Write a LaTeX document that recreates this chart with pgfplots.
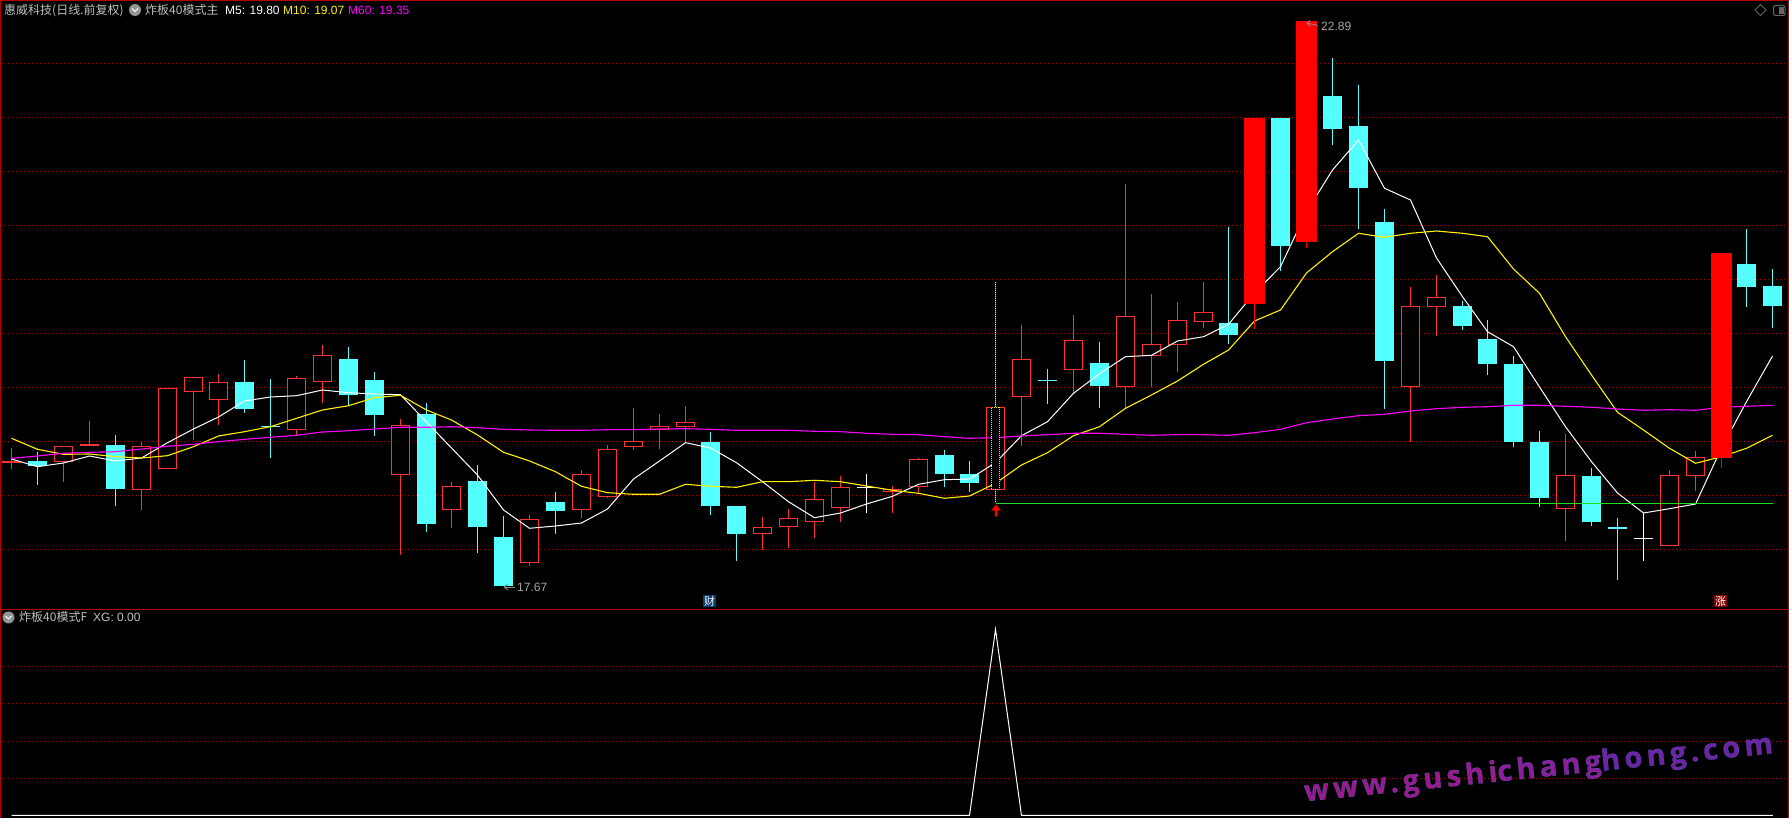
\documentclass[border=0pt]{standalone}
\usepackage{pgfplots}
\usepackage{pgfplotstable}
\usepackage{fontspec}
\pgfplotsset{compat=1.18}
\setmainfont{Liberation Sans}
\newfontfamily\cjk{Noto Sans CJK SC}
\newfontfamily\wmbold[LetterSpace=15,FakeBold=0.7]{Open Sans Bold}
\definecolor{cyanc}{HTML}{54FFFF}
\definecolor{redc}{HTML}{FF3232}
\definecolor{gridred}{HTML}{A80000}
\definecolor{border}{HTML}{B80000}
\definecolor{txt}{HTML}{C0C0C0}
\definecolor{mag}{HTML}{FF00FF}
\definecolor{wmA}{HTML}{9A1A8E}
\definecolor{wmB}{HTML}{8A1E9C}
\definecolor{wmC}{HTML}{6C24A6}
\pgfplotstableread{
x m5 m10 m60
11.5 459 438.3 458.3
37.5 466.7 449.3 456
63.5 463 454.3 453.3
89.5 456 454 452.3
115.5 461 456.7 451.7
141.5 458 458 449
167.5 442.7 455.7 446.3
193.5 429 446.7 444.3
218.5 417 436 441.7
244.5 401 431.7 439.3
270.5 397 426.7 437.3
296.5 395.7 418.3 435.3
322.5 390 410 432
348.5 392.7 405.7 430.7
374.5 394 397.7 429
400.5 394.7 395.3 427.3
426.5 422 410 427.3
451.5 448 420 426.7
477.5 475 435 427.7
503.5 510 452.3 429.3
529.5 528.3 461 430
555.5 526 471.7 430.3
581.5 523 486.3 430.3
607.5 509 492.7 429.7
633.5 479 494.3 429.7
659.5 461 494.3 429
685.5 442.7 484.3 428.7
710.5 448 486.3 429.3
736.5 462.7 487.3 430.3
762.5 481.7 481.7 430.3
788.5 501.7 481.7 430.3
814.5 517.7 480.3 431.3
840.5 513 481.7 431.7
866.5 504 486 433.3
892.5 496.3 490.3 434.3
918.5 484.3 493.3 434.7
944.5 479.7 498.3 436.7
969.5 479 496 438.3
995.5 462.7 483.3 437.7
1021.5 435.7 465 436
1047.5 421.7 452.7 434.7
1073.5 393.3 435.7 433.3
1099.5 373.7 426.7 433.3
1125.5 356.7 408.3 434.3
1151.5 355.3 395 435.3
1177.5 341 381 434.7
1203.5 336.7 364.3 434.7
1228.5 324.3 350 435.3
1254.5 293 321 432.7
1280.5 266.7 310 429.3
1306.5 211.7 273 422.7
1332.5 170 251.7 419
1358.5 140 233.3 415.7
1384.5 188.3 237.3 414.3
1410.5 200 233.3 411
1436.5 258 231 408.7
1462.5 296.7 233.3 407.3
1487.5 331.7 236.7 406.7
1513.5 346.7 269 405.3
1539.5 387 293.3 405.3
1565.5 426.7 336.7 406.3
1591.5 461.7 375 407.3
1617.5 493 412.3 409
1643.5 513 430 410.3
1669.5 508.7 448.3 409.7
1695.5 504 463.3 410.3
1721.5 448 456.7 407.3
1746.5 401.7 448.3 406.3
1772.5 356 435.3 405.3
}\matable
\pgfplotstableread{
x xg
11.5 0
969.5 0
995.5 1
1021.5 0
1772.5 0
}\xgtable
% x, high, body top, body bottom, low -- hollow red
\newcommand{\candH}[5]{%
 \pgfmathsetmacro\xl{#1-9}\pgfmathsetmacro\xr{#1+9}%
 \addplot[draw=redc,line width=1pt] coordinates {(#1,#2)(#1,#3)};
 \addplot[draw=redc,line width=1pt] coordinates {(#1,#4)(#1,#5)};
 \addplot[draw=redc,fill=black,line width=1pt] coordinates {(\xl,#3)(\xr,#3)(\xr,#4)(\xl,#4)} --cycle;
}
% filled cyan
\newcommand{\candC}[5]{%
 \pgfmathsetmacro\xl{#1-9.5}\pgfmathsetmacro\xr{#1+9.5}%
 \addplot[draw=cyanc,line width=1pt] coordinates {(#1,#2)(#1,#5)};
 \addplot[draw=none,fill=cyanc] coordinates {(\xl,#3)(\xr,#3)(\xr,#4)(\xl,#4)} --cycle;
}
% solid red
\newcommand{\candS}[5]{%
 \pgfmathsetmacro\xl{#1-10.5}\pgfmathsetmacro\xr{#1+10.5}%
 \addplot[draw=red,line width=1pt] coordinates {(#1,#2)(#1,#5)};
 \addplot[draw=none,fill=red] coordinates {(\xl,#3)(\xr,#3)(\xr,#4)(\xl,#4)} --cycle;
}
% doji: colour, width, x, high, body, low
\newcommand{\candD}[6]{%
 \pgfmathsetmacro\xl{#3-9.5}\pgfmathsetmacro\xr{#3+9.5}%
 \addplot[draw=#1,line width=1pt] coordinates {(#3,#4)(#3,#6)};
 \addplot[draw=#1,line width=#2] coordinates {(\xl,#5)(\xr,#5)};
}
\newcommand{\chev}[2]{%
 \fill[gray!85!white] (axis cs:#1,#2) circle (6pt);
 \draw[white!85!gray,line width=1.2pt] (axis cs:#1-3,#2-1.5) -- (axis cs:#1,#2+1.5) -- (axis cs:#1+3,#2-1.5);
}
\newcommand{\wmstroke}{\special{pdf:code 0.36 0.34 0.74 RG}}
\begin{document}
\begin{tikzpicture}
\path[use as bounding box] (0,0) rectangle (1789pt,818pt);
% ---- lower panel
\begin{axis}[at={(0pt,0pt)},anchor=south west,scale only axis,width=1789pt,height=208.5pt,
 xmin=0,xmax=1789,ymin=-0.01344,ymax=1.1075,
 axis background/.style={fill=black},axis line style={draw=none},
 xtick=\empty,ytick={0.2,0.4,0.6,0.8},yticklabels={},major tick length=0pt,tick style={draw=none},
 ymajorgrids,major grid style={draw=gridred,line width=1pt,dash pattern=on 1pt off 3pt}]
\addplot[white,line width=1pt,no markers] table[x=x,y=xg]{\xgtable};
\addplot[white,line width=1.5pt,no markers] coordinates {(11.5,0)(969.5,0)};
\addplot[white,line width=1.5pt,no markers] coordinates {(1021.5,0)(1772.5,0)};
\end{axis}
% ---- upper panel
\begin{axis}[at={(0pt,208.5pt)},anchor=south west,scale only axis,width=1789pt,height=609.5pt,
 xmin=0,xmax=1789,ymin=0,ymax=609.5,y dir=reverse,
 axis background/.style={fill=black},axis line style={draw=none},
 xtick=\empty,ytick={63.5,117.5,171.5,225.5,279.5,333.5,387.5,441.5,495.5,549.5},yticklabels={},major tick length=0pt,tick style={draw=none},
 ymajorgrids,major grid style={draw=gridred,line width=1pt,dash pattern=on 1pt off 3pt},
 every axis plot/.append style={no markers}]
\candD{redc}{2pt}{11.5}{448}{462}{469}
\candC{37.5}{452}{461}{466}{485}
\candH{63.5}{446.5}{446.5}{461.5}{482}
\candD{redc}{2pt}{89.5}{421}{445}{445}
\candC{115.5}{435}{445}{489}{506}
\candH{141.5}{442.5}{446.5}{489.5}{510}
\candH{167.5}{388.5}{388.5}{468.5}{468.5}
\candH{193.5}{377.5}{377.5}{391.5}{440}
\candH{218.5}{374}{382.5}{399.5}{425}
\candC{244.5}{360}{382}{409}{413}
\candD{cyanc}{1pt}{270.5}{379}{426.5}{458}
\candH{296.5}{376}{378.5}{429.5}{435.5}
\candH{322.5}{345}{355.5}{381.5}{403}
\candC{348.5}{347}{359}{395}{405}
\candC{374.5}{372}{380}{415}{436}
\candH{400.5}{419}{425.5}{474.5}{555}
\candC{426.5}{403}{414}{524}{532}
\candH{451.5}{482}{486.5}{509.5}{528}
\candC{477.5}{465}{481}{527}{553}
\candC{503.5}{516}{537}{586}{586}
\candH{529.5}{515}{519.5}{562.5}{566}
\candC{555.5}{492}{502}{511}{534}
\candH{581.5}{470}{474.5}{509.5}{518}
\candH{607.5}{445}{449.5}{496.5}{498}
\candH{633.5}{408}{441.5}{446.5}{450}
\candH{659.5}{414}{426.5}{429.5}{449}
\candH{685.5}{406}{422.5}{426.5}{442}
\candC{710.5}{432}{442}{506}{515}
\candC{736.5}{506}{506}{534}{561}
\candH{762.5}{517}{527.5}{533.5}{550}
\candH{788.5}{509}{518.5}{526.5}{548}
\candH{814.5}{482}{499.5}{521.5}{538}
\candH{840.5}{476}{487.5}{507.5}{522}
\candD{white}{1pt}{866.5}{474}{487.5}{513}
\candH{892.5}{486}{489.5}{491.5}{513}
\candH{918.5}{458}{459.5}{486.5}{493}
\candC{944.5}{450}{455}{474}{487}
\candC{969.5}{461}{474}{483}{492}
\candH{995.5}{407.5}{407.5}{489.5}{489.5}
\candH{1021.5}{325}{359.5}{396.5}{446}
\candD{cyanc}{1pt}{1047.5}{369}{380.5}{404}
\candH{1073.5}{315}{340.5}{369.5}{393}
\candC{1099.5}{342}{363}{386}{408}
\candH{1125.5}{184}{316.5}{386.5}{408}
\candH{1151.5}{294}{344.5}{355.5}{387}
\candH{1177.5}{302}{320.5}{344.5}{372}
\candH{1203.5}{282}{312.5}{321.5}{328}
\candC{1228.5}{227}{323}{335}{344}
\candC{1280.5}{118}{118}{246}{271}
\candC{1332.5}{58}{96}{129}{145}
\candC{1358.5}{85}{126}{188}{229}
\candC{1384.5}{209}{222}{361}{409}
\candH{1410.5}{287}{306.5}{386.5}{442}
\candH{1436.5}{275}{297.5}{306.5}{336}
\candC{1462.5}{301}{306}{326}{330}
\candC{1487.5}{320}{339}{364}{375}
\candC{1513.5}{356}{364}{442}{447}
\candC{1539.5}{431}{442}{498}{507}
\candH{1565.5}{434}{475.5}{508.5}{541}
\candC{1591.5}{468}{476}{522}{526}
\candD{cyanc}{2pt}{1617.5}{518}{528}{580}
\candD{white}{1pt}{1643.5}{513}{538.5}{561}
\candH{1669.5}{470}{475.5}{545.5}{545.5}
\candH{1695.5}{451}{457.5}{475.5}{491}
\candC{1746.5}{229}{264}{287}{307}
\candC{1772.5}{269}{286}{306}{328}
% moving averages
\addplot[white,line width=1pt] table[x=x,y=m5]{\matable};
\addplot[yellow,line width=1.1pt] table[x=x,y=m10]{\matable};
\addplot[mag,line width=1.1pt] table[x=x,y=m60]{\matable};
% solid limit-up candles
\candS{1254.5}{118}{118}{304}{329}
\candS{1306.5}{21}{21}{242}{248}
\candS{1721.5}{253}{253}{458}{468}
% signal candle
\addplot[red,line width=1pt] coordinates {(995.5,282)(995.5,407)};
\addplot[red,line width=1pt] coordinates {(995.5,489.5)(995.5,503.5)};
\addplot[yellow,line width=1pt,dash pattern=on 1pt off 1pt] coordinates {(995.5,282)(995.5,407)};
\addplot[yellow,line width=1pt,dash pattern=on 1pt off 1pt] coordinates {(995.5,489.5)(995.5,503.5)};
\addplot[yellow,fill=black,line width=1pt,dash pattern=on 1pt off 1pt] coordinates {(991.5,407.5)(999.5,407.5)(999.5,489.5)(991.5,489.5)} --cycle;
% support line and arrows
\addplot[color={rgb,255:red,32;green,224;blue,32},line width=1pt] coordinates {(995.5,503.5)(1772.5,503.5)};
\addplot[red,fill=red] coordinates {(996,505)(1000.5,510.5)(997,510.5)(997,516.5)(995,516.5)(995,510.5)(991.5,510.5)} --cycle;
\addplot[color=gray!90!white,line width=0.8pt] coordinates {(515,587)(504,587)};
\addplot[color=gray!90!white,line width=0.8pt] coordinates {(508,584)(504,587)(508,590)};
\addplot[color=gray!90!white,line width=0.8pt] coordinates {(1318,25.5)(1307,23)};
\addplot[color=gray!90!white,line width=0.8pt] coordinates {(1310,20.5)(1307,23)(1310,26)};
% text
\node[anchor=base west,inner sep=0pt,text=txt,font=\fontsize{12}{14}\selectfont\cjk] at (axis cs:4,14.5) {惠威科技(日线.前复权)};
\chev{135}{10}
\node[anchor=base west,inner sep=0pt,text=txt,font=\fontsize{12}{14}\selectfont\cjk] at (axis cs:145,14.5) {炸板40模式主};
\node[anchor=base west,inner sep=0pt,text=white,font=\fontsize{12}{14}\selectfont] at (axis cs:225,14.5) {M5: 19.80};
\node[anchor=base west,inner sep=0pt,text=yellow,font=\fontsize{12}{14}\selectfont] at (axis cs:283,14.5) {M10: 19.07};
\node[anchor=base west,inner sep=0pt,text=mag,font=\fontsize{12}{14}\selectfont] at (axis cs:348,14.5) {M60: 19.35};
\node[anchor=base west,inner sep=0pt,text=gray!70!white,font=\fontsize{12}{14}\selectfont] at (axis cs:517,591.5) {17.67};
\node[anchor=base west,inner sep=0pt,text=gray!70!white,font=\fontsize{12}{14}\selectfont] at (axis cs:1321,31) {22.89};
\node[fill={rgb,255:red,10;green,58;blue,110},text=white,inner sep=0pt,minimum width=13pt,minimum height=12pt,font=\fontsize{11}{12}\selectfont\cjk] at (axis cs:709.5,601.5) {财};
\node[fill={rgb,255:red,128;green,0;blue,0},text=white,inner sep=0pt,minimum width=13pt,minimum height=12pt,font=\fontsize{11}{12}\selectfont\cjk] at (axis cs:1720.5,601.5) {涨};
\draw[gray!80!black,line width=1pt] (axis cs:1760.5,4.5) -- (axis cs:1766,10) -- (axis cs:1760.5,15.5) -- (axis cs:1755,10) -- cycle;
\draw[gray!80!black,line width=1pt,rounded corners=2pt] (axis cs:1773.5,5.5) rectangle (axis cs:1785,15.5);
\fill[gray!80!black] (axis cs:1779,7) rectangle (axis cs:1783.5,14);
\end{axis}
% heading of the lower panel
\node[anchor=base west,inner sep=0pt,text=txt,font=\fontsize{12}{14}\selectfont\cjk] at (19pt,196pt) {炸板40模式F};
\node[anchor=base west,inner sep=0pt,text=txt,font=\fontsize{12}{14}\selectfont] at (93pt,196pt) {XG: 0.00};
\fill[gray!85!white] (8.5pt,200.5pt) circle (6pt);
\draw[white!85!gray,line width=1.2pt] (5.5pt,202pt) -- (8.5pt,199pt) -- (11.5pt,202pt);
% watermark
\node[rotate=5.9,anchor=base west,inner sep=0pt,font=\fontsize{29}{32}\selectfont\wmbold] at (1305pt,16.5pt) {\textcolor{wmA}{\wmstroke www.gushi}\textcolor{wmB}{\wmstroke chang}\textcolor{wmC}{\wmstroke hong.com}};
% frame
\draw[border,line width=1pt] (0.5pt,0pt) -- (0.5pt,818pt);
\draw[border,line width=1pt] (0pt,817.5pt) -- (1789pt,817.5pt);
\draw[border,line width=1pt] (1788.5pt,0pt) -- (1788.5pt,818pt);
\draw[border,line width=1pt] (0pt,208.5pt) -- (1789pt,208.5pt);
\end{tikzpicture}
\end{document}
